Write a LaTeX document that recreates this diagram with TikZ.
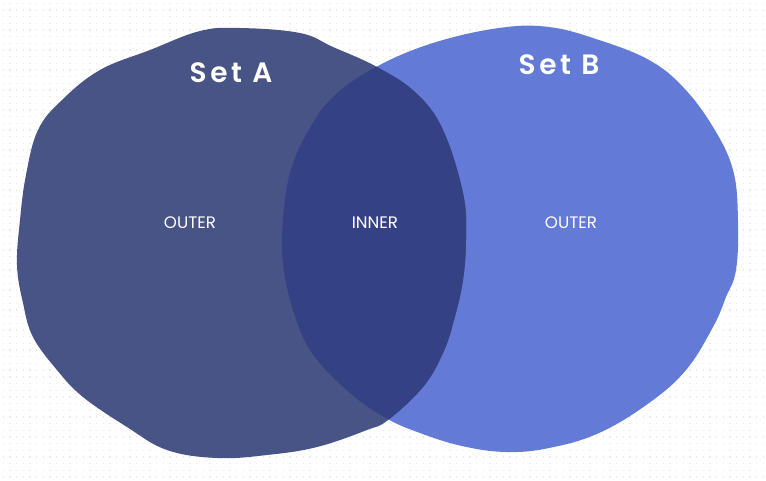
\documentclass[tikz,border=0pt]{standalone}
\usepackage{fontspec}
\setmainfont{Poppins}
\newfontfamily\titlefont[LetterSpace=13, UprightFont=* SemiBold]{Poppins}
\definecolor{setA}{HTML}{485386}
\definecolor{setB}{HTML}{637AD6}
\definecolor{both}{HTML}{344285}
\definecolor{gridgray}{HTML}{EBEBEB}
\newcommand{\blobA}{plot[smooth cycle, tension=0.65] coordinates {(240,28) (300,33) (333,47) (377,67) (416,93) (443,130) (463,193) (466,237) (463,280) (454,320) (443,353) (423,387) (388,420) (367,430) (317,447) (267,455) (217,458) (167,450) (127,427) (83,397) (57,370) (33,337) (23,303) (17,265) (20,220) (26,175) (38,130) (62,100) (100,70) (150,50) (200,31)}}
\newcommand{\blobB}{plot[smooth cycle, tension=0.65] coordinates {(376,67) (433,43) (499,28) (549,27) (599,40) (649,60) (683,87) (713,127) (733,170) (738,220) (736,270) (726,297) (713,327) (686,370) (649,403) (599,433) (549,448) (506,452) (462,446) (420,433) (386,418) (350,393) (312,353) (293,310) (283,263) (283,220) (290,173) (307,133) (333,97)}}
\begin{document}
\begin{tikzpicture}[x=0.75pt, y=-0.75pt,
    setlabel/.style={text=white, font=\titlefont\fontsize{21}{24}\selectfont},
    partlabel/.style={text=white, font=\fontsize{12.5}{14}\selectfont}]
    \useasboundingbox (0,0) rectangle (766,480);
    % faint dotted background
    \foreach \r in {0,...,71}
        \draw[gridgray, line width=1pt, dash pattern=on 1pt off 4pt, dash phase=-2pt] (0,{3.3+\r*6.67})--(766,{3.3+\r*6.67});
    \fill[setB] \blobB;
    \fill[setA] \blobA;
    \begin{scope}
        \clip \blobA;
        \fill[both] \blobB;
    \end{scope}
    \node[setlabel] (titleA) at (231,73) {Set A};
    \node[setlabel] (titleB) at (559,65) {Set B};
    \node[partlabel] (outerA) at (190,223) {OUTER};
    \node[partlabel] (inner) at (375,223) {INNER};
    \node[partlabel] (outerB) at (571,223) {OUTER};
\end{tikzpicture}
\end{document}
